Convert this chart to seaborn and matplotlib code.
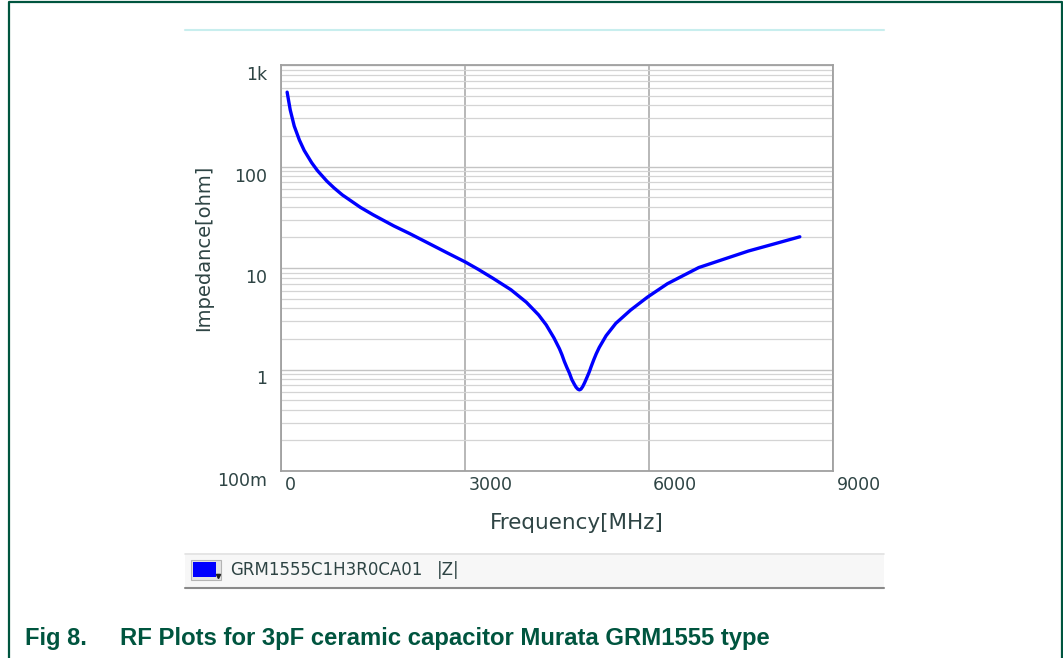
import pandas as pd
import seaborn as sns
import matplotlib.pyplot as plt
from matplotlib.patches import Rectangle
from matplotlib.lines import Line2D
from matplotlib.ticker import LogLocator, FixedLocator, NullFormatter
from matplotlib import transforms

# values
freq_mhz = [100, 150, 216, 300, 378, 500, 595, 750, 865, 1000, 1297, 1500, 1838,
            2100, 2432, 2700, 3000, 3216, 3459, 3750, 4000, 4200, 4324, 4450, 4540,
            4580, 4620, 4660, 4703, 4740, 4780, 4810, 4840, 4865, 4890, 4920, 4950,
            4990, 5027, 5060, 5100, 5140, 5189, 5300, 5459, 5700, 5972, 6300, 6811,
            7200, 7621, 8000, 8459]
impedance_ohm = [540, 362, 250, 182, 144, 109, 91, 71.5, 61.5, 52.5, 39.5, 33.5, 26,
                 21.8, 17.2, 14.2, 11.5, 9.7, 7.9, 6.1, 4.6, 3.45, 2.75, 2.05, 1.6,
                 1.4, 1.2, 1.05, 0.92, 0.8, 0.72, 0.67, 0.64, 0.63, 0.64, 0.68, 0.74,
                 0.84, 0.95, 1.08, 1.25, 1.43, 1.65, 2.15, 2.85, 3.85, 5.15, 7.0, 10.1,
                 12.1, 14.7, 17.0, 20.3]

x_ticks = [0, 3000, 6000, 9000]
x_tick_labels = ['0', '3000', '6000', '9000']
y_ticks = [0.1, 1, 10, 100, 1000]
y_tick_labels = ['100m', '1', '10', '100', '1k']

part_name = 'GRM1555C1H3R0CA01'
trace_name = '|Z|'
fig_num = 'Fig 8.'
caption = 'RF Plots for 3pF ceramic capacitor Murata GRM1555 type'

sns.set_style('white')
plt.rcParams['font.family'] = ['DejaVu Sans']

W, H = 1063, 658
txt_col = '#2e4444'
green = '#00553f'


def fx(px):
    return px / W


def fy(py):
    return 1 - py / H


fig = plt.figure(figsize=(W / 100, H / 100), dpi=100)
ax = fig.add_axes([fx(281), fy(471), (833 - 281) / W, (471 - 65) / H])

df = pd.DataFrame({'freq': freq_mhz, 'z': impedance_ohm})
sns.lineplot(data=df, x='freq', y='z', ax=ax, color='#0000ff', lw=2.4,
             solid_joinstyle='round', solid_capstyle='round')

ax.set_yscale('log')
ax.set_xlim(0, 9000)
ax.set_ylim(0.1, 1000)
ax.set_xlabel('')
ax.set_ylabel('')

# grid
ax.xaxis.set_major_locator(FixedLocator(x_ticks))
ax.yaxis.set_major_locator(FixedLocator(y_ticks))
ax.yaxis.set_minor_locator(LogLocator(base=10, subs=range(2, 10)))
ax.yaxis.set_minor_formatter(NullFormatter())
ax.grid(which='major', axis='x', color='#a4a4a4', lw=1.1)
ax.grid(which='major', axis='y', color='#c4c4c4', lw=1.0)
ax.grid(which='minor', axis='y', color='#d4d4d4', lw=0.9)
ax.tick_params(which='both', length=0, labelleft=False, labelbottom=False)
for s in ax.spines.values():
    s.set_color('#a0a0a0')
    s.set_linewidth(1.3)

# tick labels sit below/right of their grid lines like the original
off_y = transforms.ScaledTranslation(-0.14, -0.10, fig.dpi_scale_trans)
for v, lab in zip(y_ticks, y_tick_labels):
    ax.text(0, v, lab, transform=ax.get_yaxis_transform() + off_y,
            ha='right', va='center', fontsize=12.5, color=txt_col)
off_x = transforms.ScaledTranslation(0.04, -0.14, fig.dpi_scale_trans)
for v, lab in zip(x_ticks, x_tick_labels):
    ax.text(v, 0, lab, transform=ax.get_xaxis_transform() + off_x,
            ha='left', va='center', fontsize=12.5, color=txt_col)

fig.text(fx(577), fy(523), 'Frequency[MHz]', ha='center', va='center',
         fontsize=15.5, color=txt_col)
fig.text(fx(204), fy(248), 'Impedance[ohm]', ha='center', va='center',
         rotation=90, fontsize=14, color=txt_col)

# widget frame: cyan line on top, legend bar at bottom
fig.add_artist(Line2D([fx(185), fx(884)], [fy(29.5), fy(29.5)], color='#c8eeee', lw=1.5))
fig.add_artist(Rectangle((fx(185), fy(588)), (884 - 185) / W, (588 - 553) / H,
                         transform=fig.transFigure, facecolor='#f7f7f7', edgecolor='none'))
fig.add_artist(Line2D([fx(185), fx(884)], [fy(553.5), fy(553.5)], color='#e2e2e2', lw=1.2))
fig.add_artist(Line2D([fx(185), fx(884)], [fy(588), fy(588)], color='#8a8a8a', lw=1.5))
fig.add_artist(Rectangle((fx(191), fy(580)), 30 / W, 20 / H, transform=fig.transFigure,
                         facecolor='#e4e4e4', edgecolor='#b4b4b4', lw=0.8))
fig.add_artist(Rectangle((fx(193), fy(577)), 23 / W, 15 / H, transform=fig.transFigure,
                         facecolor='#0000ff', edgecolor='none'))
fig.add_artist(Line2D([fx(218)], [fy(576)], marker='v', color='#202020', ms=3, lw=0))
fig.text(fx(230), fy(570), part_name, ha='left', va='center', fontsize=12, color=txt_col)
fig.text(fx(437), fy(570), trace_name, ha='left', va='center', fontsize=12, color=txt_col)

# document border and caption
fig.add_artist(Line2D([fx(8.5), fx(8.5), fx(1061.5), fx(1061.5)],
                      [0, fy(2), fy(2), 0], color=green, lw=1.6))
fig.text(fx(25), fy(645), fig_num, ha='left', va='baseline', fontsize=17,
         fontweight='bold', family=['Liberation Sans', 'DejaVu Sans'], color=green)
fig.text(fx(120), fy(645), caption, ha='left', va='baseline', fontsize=17.2,
         fontweight='bold', family=['Liberation Sans', 'DejaVu Sans'], color=green)

fig.savefig('out.png', dpi=100)
